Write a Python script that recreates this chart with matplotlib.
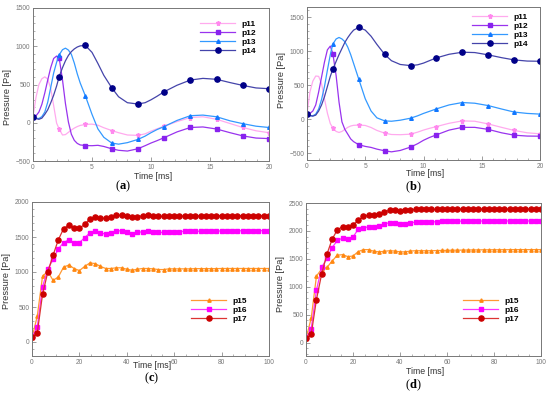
import matplotlib
matplotlib.use("Agg")
import matplotlib.pyplot as plt
from matplotlib.ticker import MultipleLocator, AutoMinorLocator

plt.rcParams["font.family"] = "Liberation Sans"
plt.rcParams["mathtext.fontset"] = "custom"
plt.rcParams["mathtext.bf"] = "Liberation Serif:bold"

# time axis for the short runs (a), (b) in ms
t_short = [0, 0.25, 0.5, 0.75, 1.0, 1.25, 1.5, 1.75, 2.0, 2.22, 2.5, 2.75, 3.0, 3.25,
           3.5, 3.75, 4.0, 4.44, 5.0, 5.5, 6.0, 6.67, 7.25, 8.0, 8.89, 9.5, 10.0, 10.5,
           11.11, 12.2, 13.33, 14.4, 15.56, 16.7, 17.78, 18.9, 20.0]
marks_short = [0, 2.22, 4.44, 6.67, 8.89, 11.11, 13.33, 15.56, 17.78, 20.0]

a_p11 = [75, 330, 500, 575, 600, 570, 450, 225, -5, -83, -160, -155, -125, -95,
         -70, -50, -35, -22, -18, -32, -65, -102, -130, -160, -165, -145, -110, -80,
         -45, 15, 68, 78, 45, -10, -62, -105, -130]
a_p12 = [75, 90, 140, 240, 390, 560, 720, 840, 872, 845, 560, 250, 10, -150,
         -230, -270, -290, -298, -300, -295, -310, -340, -360, -370, -340, -300, -265, -235,
         -195, -120, -62, -55, -82, -130, -172, -200, -207]
a_p13 = [75, 60, 55, 80, 140, 270, 460, 650, 790, 888, 955, 975, 950, 895,
         780, 640, 520, 350, 110, -80, -190, -265, -280, -260, -218, -175, -130, -90,
         -50, 30, 92, 100, 78, 25, -12, -45, -62]
a_p14 = [75, 55, 45, 60, 110, 170, 260, 360, 480, 604, 720, 810, 880, 930,
         965, 990, 1005, 1010, 920, 775, 620, 458, 340, 262, 245, 262, 300, 345,
         405, 490, 558, 580, 568, 525, 488, 455, 445]

b_p11 = [75, 400, 560, 635, 630, 520, 300, 90, -65, -128, -180, -195, -180, -150,
         -120, -100, -90, -86, -92, -122, -165, -205, -225, -228, -220, -190, -160, -135,
         -108, -60, -25, -30, -70, -120, -165, -200, -215]
b_p12 = [75, 85, 120, 210, 400, 620, 840, 1020, 1075, 965, 640, 250, -40, -150,
         -220, -290, -330, -375, -400, -415, -440, -465, -480, -460, -410, -360, -310, -270,
         -230, -160, -120, -120, -150, -200, -235, -248, -250]
b_p13 = [75, 50, 50, 75, 150, 290, 480, 720, 950, 1105, 1180, 1202, 1180, 1140,
         1060, 950, 820, 590, 300, 120, 20, -25, -30, -15, 15, 50, 85, 115,
         152, 210, 245, 235, 200, 150, 105, 85, 75]
b_p14 = [75, 55, 45, 60, 120, 210, 330, 480, 630, 735, 850, 950, 1040, 1130,
         1200, 1260, 1310, 1350, 1310, 1220, 1100, 952, 860, 805, 788, 800, 825, 860,
         902, 955, 985, 980, 946, 905, 872, 855, 852]

# time axis for the long runs (c), (d) in ms, one marker every 100/45 ms
t_long = [i * 100 / 45 for i in range(46)]

c_p15 = [60, 370, 940, 1010, 880, 930, 1070, 1100, 1050, 1020, 1080, 1130, 1120, 1080,
         1050, 1050, 1060, 1060, 1040, 1025, 1040, 1050, 1050, 1045, 1035, 1035, 1045, 1045,
         1045, 1045, 1045, 1048, 1048, 1048, 1048, 1048, 1050, 1050, 1050, 1050, 1050, 1050,
         1050, 1050, 1050, 1050]
c_p16 = [70, 215, 790, 1040, 1180, 1330, 1420, 1460, 1420, 1420, 1490, 1560, 1580, 1560,
         1540, 1560, 1585, 1590, 1570, 1550, 1565, 1575, 1580, 1575, 1565, 1565, 1570, 1575,
         1578, 1580, 1580, 1582, 1582, 1584, 1585, 1585, 1586, 1587, 1588, 1588, 1589, 1590,
         1590, 1590, 1590, 1590]
c_p17 = [70, 130, 680, 1000, 1240, 1460, 1620, 1670, 1625, 1625, 1680, 1760, 1780, 1770,
         1765, 1780, 1810, 1810, 1795, 1785, 1790, 1805, 1810, 1805, 1795, 1795, 1800, 1805,
         1800, 1800, 1800, 1800, 1805, 1805, 1805, 1805, 1805, 1805, 1805, 1805, 1805, 1805,
         1805, 1805, 1805, 1805]

d_p15 = [70, 440, 1190, 1320, 1345, 1460, 1565, 1575, 1540, 1550, 1630, 1665, 1665, 1635,
         1625, 1635, 1645, 1640, 1625, 1625, 1640, 1645, 1645, 1645, 1645, 1648, 1650, 1652,
         1655, 1655, 1657, 1658, 1660, 1660, 1662, 1662, 1663, 1663, 1664, 1664, 1665, 1665,
         1665, 1665, 1665, 1665]
d_p16 = [75, 250, 940, 1345, 1510, 1700, 1830, 1870, 1855, 1890, 2030, 2060, 2070, 2070,
         2080, 2125, 2148, 2142, 2130, 2130, 2148, 2155, 2160, 2160, 2160, 2165, 2170, 2172,
         2172, 2174, 2175, 2175, 2176, 2176, 2177, 2177, 2178, 2178, 2178, 2178, 2178, 2178,
         2178, 2178, 2178, 2180]
d_p17 = [75, 150, 770, 1230, 1580, 1850, 2020, 2075, 2070, 2110, 2190, 2260, 2285, 2290,
         2300, 2340, 2370, 2370, 2360, 2370, 2380, 2385, 2385, 2385, 2385, 2385, 2388, 2390,
         2390, 2390, 2392, 2392, 2392, 2392, 2392, 2392, 2392, 2392, 2392, 2392, 2392, 2392,
         2392, 2392, 2392, 2392]

W, H = 550, 396
fig = plt.figure(figsize=(W / 100, H / 100), dpi=100)


def box(l, t, r, b):
    return [l / W, 1 - b / H, (r - l) / W, (b - t) / H]


def style(ax, xlim, ylim, xmaj, xmin_n, ymaj):
    ax.set_xlim(*xlim)
    ax.set_ylim(*ylim)
    ax.xaxis.set_major_locator(MultipleLocator(xmaj))
    ax.xaxis.set_minor_locator(AutoMinorLocator(xmin_n))
    ax.yaxis.set_major_locator(MultipleLocator(ymaj))
    ax.yaxis.set_minor_locator(AutoMinorLocator(5))
    ax.tick_params(which="both", direction="in", colors="#777777", labelsize=4.8,
                   pad=2)
    ax.tick_params(which="major", length=3, width=0.5)
    ax.tick_params(which="minor", length=1.6, width=0.4)
    for s in ax.spines.values():
        s.set_color("#777777")
        s.set_linewidth(0.7)


def labels(ax, ylab, xlab):
    ax.set_ylabel("Pressure [Pa]", fontsize=6.6, color="#333333")
    ax.set_xlabel("Time [ms]", fontsize=6.3, color="#333333")
    ax.yaxis.set_label_coords(*ylab)
    ax.xaxis.set_label_coords(*xlab)


def legend_and_tag(ax, tag, tag_xy, leg_xy):
    ax.legend(loc="upper left", bbox_to_anchor=(leg_xy[0] / W, 1 - leg_xy[1] / H),
              bbox_transform=fig.transFigure, frameon=False, borderpad=0,
              borderaxespad=0, handlelength=4.2, handletextpad=0.8,
              labelspacing=0.15, prop={"weight": "bold", "size": 6})
    fig.text(tag_xy[0] / W, 1 - tag_xy[1] / H, r"($\mathbf{" + tag + "}$)",
             family="Liberation Serif", fontsize=9, ha="center", va="center")


short_idx = [t_short.index(v) for v in marks_short]

panels = [
    ("a", box(33, 8, 269, 161), (-500, 1500), [a_p11, a_p12, a_p13, a_p14],
     (-0.09, 0.42), (0.51, -0.07), (123, 186), (200, 20)),
    ("b", box(307, 7, 540, 160), (-600, 1650), [b_p11, b_p12, b_p13, b_p14],
     (-0.09, 0.52), (0.506, -0.058), (413, 187), (472, 13)),
]

short_styles = [
    ("p11", "#ffaaee", "#ff88ee", "*", 3.6),
    ("p12", "#9933ee", "#8822ee", "s", 2.4),
    ("p13", "#3399ff", "#1177ff", "^", 2.6),
    ("p14", "#4444aa", "#000088", "o", 3.8),
]

for tag, pos, ylim, series, ylab, xlab, tag_xy, leg_xy in panels:
    ax = fig.add_axes(pos)
    style(ax, (0, 20), ylim, 5, 5, 500)
    for (name, lc, mc, mk, ms), vals in zip(short_styles, series):
        ax.plot(t_short, vals, color=lc, lw=0.9, marker=mk, ms=ms,
                mfc=mc, mec=mc, markevery=short_idx, label=name)
    labels(ax, ylab, xlab)
    legend_and_tag(ax, tag, tag_xy, leg_xy)

long_styles = [
    ("p15", "#ff9933", "#ff8811", "^", 2.4),
    ("p16", "#ff33ff", "#ff00ff", "s", 2.4),
    ("p17", "#dd3333", "#cc0000", "o", 3.7),
]

panels = [
    ("c", box(32, 202, 269, 356), (-200, 2000), [c_p15, c_p16, c_p17],
     (-0.09, 0.49), (0.506, -0.03), (152, 378), (191, 297)),
    ("d", box(306, 203, 541, 356), (-240, 2500), [d_p15, d_p16, d_p17],
     (-0.09, 0.47), (0.506, -0.072), (413, 385), (463, 297)),
]

for tag, pos, ylim, series, ylab, xlab, tag_xy, leg_xy in panels:
    ax = fig.add_axes(pos)
    style(ax, (0, 100), ylim, 20, 4, 500)
    for (name, lc, mc, mk, ms), vals in zip(long_styles, series):
        ax.plot(t_long, vals, color=lc, lw=0.9, marker=mk, ms=ms,
                mfc=mc, mec=mc, label=name)
    labels(ax, ylab, xlab)
    legend_and_tag(ax, tag, tag_xy, leg_xy)

fig.savefig("out.png", dpi=100)
